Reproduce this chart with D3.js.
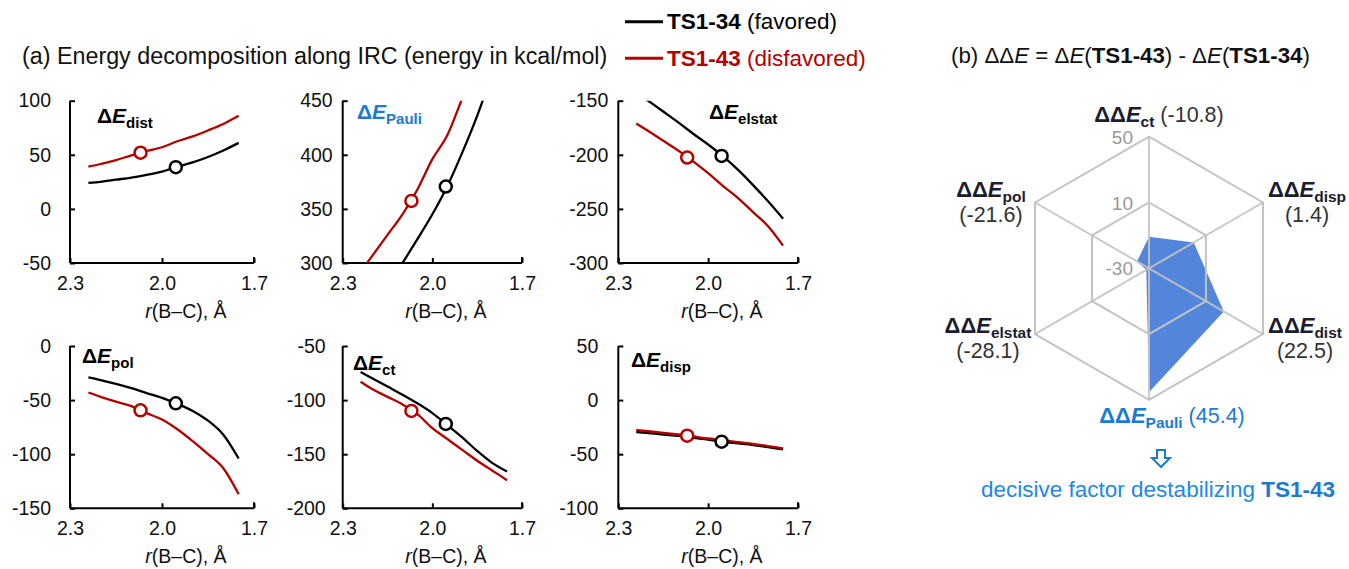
<!DOCTYPE html>
<html><head><meta charset="utf-8">
<script src="https://cdn.jsdelivr.net/npm/d3@7"></script>
<style>
body{margin:0;background:#fff;}
svg{display:block;font-family:"Liberation Sans",Arial,sans-serif;}
</style>
</head><body>
<svg id="c" width="1349" height="569"></svg>
<script>
// ---------------- DATA ----------------
const rGrid = [2.24, 2.2, 2.15, 2.1, 2.05, 2.0, 1.95, 1.9, 1.85, 1.8, 1.75];
const xTicks = [2.3, 2.0, 1.7];
const tsR34 = 1.955, tsR43 = 2.07;

const dist34   = [24, 25, 27, 29, 31.5, 34.5, 39, 43, 48, 54, 61];
const dist43   = [39, 41.5, 45, 49.5, 53.5, 57, 62.5, 67, 72.5, 78.5, 86];
const pauli34  = [null, null, 278, 300, 322, 345, 371, 402, 436, 475, null];
const pauli43  = [292, 307, 326, 345, 368, 396, 418, 452, 485, null, null];
const elstat34 = [-142, -150, -160, -170, -180.5, -190.5, -201.5, -214, -228, -243, -259];
const elstat43 = [-171, -178, -187, -196, -206, -217, -229, -240, -253, -266, -284];
const pol34    = [-29, -31.5, -35, -39, -43.5, -48, -53.5, -60, -69, -82, -104];
const pol43    = [-43, -47, -51.5, -55.5, -62, -68, -77, -88, -100, -113, -137];
const ct34     = [-74, -80, -87.5, -95, -103, -112, -123, -134.5, -147, -158, -166];
const ct43     = [-83, -90, -97, -104, -113, -126, -136, -146, -156, -165, -174];
const disp34   = [-29.5, -30.5, -31.8, -33, -34.8, -36.5, -38.5, -40, -41.5, -43.5, -45.5];
const disp43   = [-27.6, -28.8, -30.2, -31.8, -33.6, -35.5, -37, -38.8, -40.5, -42.5, -44.6];

const panelTerms = ["dist", "Pauli", "elstat", "pol", "ct", "disp"];
const series34 = [dist34, pauli34, elstat34, pol34, ct34, disp34];
const series43 = [dist43, pauli43, elstat43, pol43, ct43, disp43];
const yDomains = [[-50, 100], [300, 450], [-300, -150], [-150, 0], [-200, -50], [-100, 50]];
const yTickVals = [[-50, 0, 50, 100], [300, 350, 400, 450], [-300, -250, -200, -150],
                   [-150, -100, -50, 0], [-200, -150, -100, -50], [-100, -50, 0, 50]];
const ts34Values = [38.6, 370.7, -201, -53, -122, -38.4];
const ts43Values = [51.9, 357.4, -202.5, -59.4, -110, -32.9];

// radar
const radarTerms  = ["ct", "disp", "dist", "Pauli", "elstat", "pol"];
const radarValues = [-10.8, 1.4, 22.5, 45.4, -28.1, -21.6];
const radarRings  = [-30, 10, 50];

// ---------------- STYLE / LAYOUT ----------------
const BLACK = "#000", RED = "#b50000", BLUE = "#1a7ad4", NAVY = "#1b1d2e";
const svg = d3.select("#c");
const hy = v => String(v).replace("\u2212", "-");

const colX = [70, 342.7, 618.3], colW = [184, 179.3, 179.7];
const rowY = [100.7, 346], rowH = 162.3;
const tickPad = [19, 10, 10, 19, 17, 20];
const labelPos = [[97, 123], [357, 119], [709, 119], [82, 363], [353, 370], [631, 367]];
const axisLabelX = [186, 446, 722, 186, 446, 722];

// title and legend
svg.append("text").attr("x", 22).attr("y", 64).attr("font-size", 23.3).attr("fill", "#111")
  .text("(a) Energy decomposition along IRC (energy in kcal/mol)");

const legend = [{c: BLACK, y: 21.7, name: "TS1-34", note: " (favored)"},
                {c: RED, y: 58.3, name: "TS1-43", note: " (disfavored)"}];
legend.forEach(l => {
  svg.append("line").attr("x1", 625).attr("x2", 663).attr("y1", l.y).attr("y2", l.y)
    .attr("stroke", l.c).attr("stroke-width", 3);
  const t = svg.append("text").attr("x", 667).attr("y", l.y + 7.5).attr("font-size", 22.5).attr("fill", l.c);
  t.append("tspan").attr("font-weight", "bold").text(l.name);
  t.append("tspan").text(l.note);
});

// panels
panelTerms.forEach((term, i) => {
  const col = i % 3, row = Math.floor(i / 3);
  const x0 = colX[col], w = colW[col], y0 = rowY[row], h = rowH;
  const g = svg.append("g");
  const x = d3.scaleLinear().domain([2.3, 1.7]).range([x0, x0 + w]);
  const y = d3.scaleLinear().domain(yDomains[i]).range([y0 + h, y0]);

  const yAx = g.append("g").attr("transform", `translate(${x0},0)`)
    .call(d3.axisLeft(y).tickValues(yTickVals[i]).tickSize(-5).tickPadding(tickPad[i]).tickFormat(d => hy(d)));
  const xAx = g.append("g").attr("transform", `translate(0,${y0 + h})`)
    .call(d3.axisBottom(x).tickValues(xTicks).tickSize(-5).tickPadding(13).tickFormat(d3.format(".1f")));
  [yAx, xAx].forEach(a => {
    a.select(".domain").attr("stroke", "#000").attr("stroke-width", 2);
    a.selectAll(".tick line").attr("stroke", "#000").attr("stroke-width", 2);
    a.selectAll("text").attr("font-size", 19.5).attr("fill", "#111").attr("font-family", "Liberation Sans, Arial, sans-serif");
  });
  xAx.select(".domain").attr("d", `M${x0},0H${x0 + w}`);
  xAx.append("line").attr("x1", x0 + w).attr("x2", x0 + w).attr("y1", 0).attr("y2", -6)
    .attr("stroke", "#000").attr("stroke-width", 2);
  yAx.select(".domain").attr("d", `M0,${y0 + h}V${y0}`);

  // axis title
  const at = g.append("text").attr("x", axisLabelX[i]).attr("y", y0 + h + 55)
    .attr("text-anchor", "middle").attr("font-size", 19.5).attr("fill", "#111");
  at.append("tspan").attr("font-style", "italic").text("r");
  at.append("tspan").text("(B–C), Å");

  // clip
  const cid = "clip" + i;
  svg.append("clipPath").attr("id", cid).append("rect")
    .attr("x", x0).attr("y", y0).attr("width", w).attr("height", h);

  const line = d3.line().defined(d => d[1] !== null).x(d => x(d[0])).y(d => y(d[1])).curve(d3.curveMonotoneX);
  const lg = g.append("g").attr("clip-path", `url(#${cid})`);
  [[series34[i], BLACK], [series43[i], RED]].forEach(([vals, c]) => {
    lg.append("path").datum(rGrid.map((r, k) => [r, vals[k]]))
      .attr("d", line).attr("fill", "none").attr("stroke", c).attr("stroke-width", 2.3);
  });
  [[tsR43, ts43Values[i], RED], [tsR34, ts34Values[i], BLACK]].forEach(([r, v, c]) => {
    g.append("circle").attr("cx", x(r)).attr("cy", y(v)).attr("r", 6)
      .attr("fill", "#fff").attr("stroke", c).attr("stroke-width", 2.5);
  });

  // panel label
  const lc = term === "Pauli" ? BLUE : "#000";
  const pl = g.append("text").attr("x", labelPos[i][0]).attr("y", labelPos[i][1])
    .attr("font-size", 21).attr("font-weight", "bold").attr("fill", lc);
  pl.append("tspan").text("Δ");
  pl.append("tspan").attr("font-style", "italic").text("E");
  pl.append("tspan").attr("font-size", 15).attr("dy", 5).text(term);
});

// ---------------- RADAR ----------------
const cx = 1149, cy = 268.3, R = 131.6;
const rScale = d3.scaleLinear().domain([-30, 50]).range([0, R]);
const ang = k => -Math.PI / 2 + k * Math.PI / 3;
const pt = (k, v) => [cx + rScale(v) * Math.cos(ang(k)), cy + rScale(v) * Math.sin(ang(k))];

svg.append("text").attr("x", 951).attr("y", 63).attr("font-size", 22.3).attr("fill", "#111")
  .call(t => {
    t.append("tspan").text("(b) ΔΔ");
    t.append("tspan").attr("font-style", "italic").text("E");
    t.append("tspan").text(" = Δ");
    t.append("tspan").attr("font-style", "italic").text("E");
    t.append("tspan").text("(");
    t.append("tspan").attr("font-weight", "bold").text("TS1-43");
    t.append("tspan").text(") - Δ");
    t.append("tspan").attr("font-style", "italic").text("E");
    t.append("tspan").text("(");
    t.append("tspan").attr("font-weight", "bold").text("TS1-34");
    t.append("tspan").text(")");
  });

const rg = svg.append("g");
// data polygon
rg.append("path")
  .attr("d", d3.line()(radarValues.map((v, k) => pt(k, v))) + "Z")
  .attr("fill", "#4a80d9").attr("opacity", 0.95);
// grid
radarRings.filter(v => v > -30).forEach(v => {
  rg.append("path").attr("d", d3.line()(radarTerms.map((_, k) => pt(k, v))) + "Z")
    .attr("fill", "none").attr("stroke", "#c4c4c4").attr("stroke-width", 2);
});
radarTerms.forEach((_, k) => {
  const [px, py] = pt(k, 50);
  rg.append("line").attr("x1", cx).attr("y1", cy).attr("x2", px).attr("y2", py)
    .attr("stroke", "#c4c4c4").attr("stroke-width", 2).attr("opacity", 0.9);
});
// ring labels
radarRings.forEach(v => {
  rg.append("text").attr("x", cx - 16).attr("y", cy - rScale(v) + 7)
    .attr("text-anchor", "end").attr("font-size", 19).attr("fill", "#999")
    .text(hy(v));
});

// axis labels
const radarLabelPos = [
  {x: 1159, y: 121.7, inline: true},
  {x: 1307, y: 196.7},
  {x: 1305, y: 333},
  {x: 1172, y: 423.3, inline: true},
  {x: 988, y: 333},
  {x: 991, y: 196.7}
];
radarTerms.forEach((term, k) => {
  const p = radarLabelPos[k];
  const isP = term === "Pauli";
  const c = isP ? BLUE : NAVY;
  const vc = isP ? BLUE : "#333";
  const t = svg.append("text").attr("x", p.x).attr("y", p.y).attr("text-anchor", "middle");
  t.append("tspan").attr("font-weight", "bold").attr("font-size", 22).attr("fill", c).text("ΔΔ");
  t.append("tspan").attr("font-weight", "bold").attr("font-style", "italic").attr("font-size", 22).attr("fill", c).text("E");
  t.append("tspan").attr("font-weight", "bold").attr("font-size", 15.5).attr("dy", 5).attr("fill", c).text(term);
  const valStr = "(" + radarValues[k].toFixed(1) + ")";
  if (p.inline) {
    t.append("tspan").attr("font-size", 21.5).attr("dy", -5).attr("fill", vc).text(" " + valStr);
  } else {
    svg.append("text").attr("x", p.x).attr("y", p.y + 25).attr("text-anchor", "middle")
      .attr("font-size", 21.5).attr("fill", vc).text(valStr);
  }
});

// hollow arrow
const ax = 1161, ay = 450;
svg.append("path")
  .attr("d", `M${ax - 4},${ay} H${ax + 4} V${ay + 8} H${ax + 9} L${ax},${ay + 17} L${ax - 9},${ay + 8} H${ax - 4} Z`)
  .attr("fill", "#fff").attr("stroke", BLUE).attr("stroke-width", 2).attr("stroke-linejoin", "miter");

svg.append("text").attr("x", 1158).attr("y", 496.7).attr("text-anchor", "middle")
  .attr("font-size", 22.5).attr("fill", "#1e88e5")
  .call(t => {
    t.append("tspan").text("decisive factor destabilizing ");
    t.append("tspan").attr("font-weight", "bold").attr("fill", BLUE).text("TS1-43");
  });
</script>
</body></html>
